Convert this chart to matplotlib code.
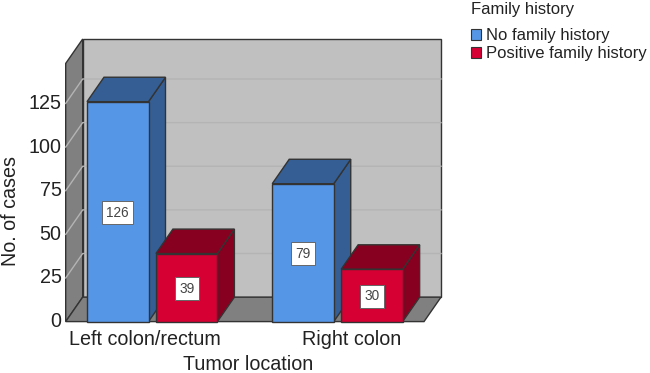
import matplotlib
matplotlib.use("Agg")
import matplotlib.pyplot as plt
from matplotlib.patches import Polygon, Patch
from matplotlib.transforms import ScaledTranslation

plt.rcParams['font.family'] = ['Liberation Sans', 'DejaVu Sans']

categories = ['Left colon/rectum', 'Right colon']
no_history = [126, 79]
positive_history = [39, 30]
series_names = ['No family history', 'Positive family history']
y_ticks = [0, 25, 50, 75, 100, 125]

W, H = 650, 373
fig = plt.figure(figsize=(W / 100, H / 100), dpi=100)
L, R, T, B = 65.7, 441.0, 39.0, 321.6
ax = fig.add_axes([L / W, 1 - B / H, (R - L) / W, (B - T) / H])
ax.set_xlim(-0.467, 1.559)
ax.set_ylim(0, 161.9)
for s in ax.spines.values():
    s.set_visible(False)

DX, DY = 0.0917, 14.0   # oblique depth in data units
BW, OFF = 0.332, 0.186  # bar width, offset from group centre
XL, XR = -0.467, 1.559
YT = 161.9
EDGE = '#333333'
TXT = '#222222'


def poly(pts, fc, ec=EDGE, lw=1.0, z=1):
    ax.add_patch(Polygon(pts, closed=True, facecolor=fc, edgecolor=ec,
                         linewidth=lw, zorder=z, clip_on=False, joinstyle='miter'))


# walls and floor
poly([(XL + DX, DY), (XR, DY), (XR, YT), (XL + DX, YT)], '#c0c0c0', z=1)
poly([(XL, 0), (XL + DX, DY), (XL + DX, YT), (XL, YT - DY)], '#808080', z=1)
poly([(XL, 0), (XR - DX, 0), (XR, DY), (XL + DX, DY)], '#808080', z=1)

# gridlines on back and side wall
for t in y_ticks[1:]:
    ax.plot([XL, XL + DX, XR], [t, t + DY, t + DY], color='#b4b4b4', lw=1.0,
            zorder=2, clip_on=False, solid_joinstyle='miter')


def bar3d(xc, v, front, dark, z):
    x0, x1 = xc - BW / 2, xc + BW / 2
    poly([(x1, 0), (x1 + DX, DY), (x1 + DX, v + DY), (x1, v)], dark, z=z)
    poly([(x0, v), (x1, v), (x1 + DX, v + DY), (x0 + DX, v + DY)], dark, z=z)
    poly([(x0, 0), (x1, 0), (x1, v), (x0, v)], front, z=z + 0.1)
    ax.annotate(str(v), ((x0 + x1) / 2, v / 2), xytext=(0, -0.7), textcoords='offset points',
                ha='center', va='center', fontsize=9.8, color='#444444', zorder=z + 0.2,
                bbox=dict(boxstyle='square,pad=0.32', fc='white', ec='#666666', lw=0.7))


for i in range(len(categories)):
    bar3d(i - OFF, no_history[i], '#5596e6', '#355f94', 3 + i * 2)
    bar3d(i + OFF, positive_history[i], '#d60032', '#87001f', 4 + i * 2)

ax.set_yticks(y_ticks)
ax.set_yticklabels([str(t) for t in y_ticks], fontsize=14.2, color=TXT)
ax.set_xticks([-0.042, 1.076])
ax.set_xticklabels(categories, fontsize=14.2, color=TXT)
ax.tick_params(axis='both', length=0)
ax.tick_params(axis='y', pad=3)
ax.tick_params(axis='x', pad=5.7)
for lab in ax.get_yticklabels():
    lab.set_transform(lab.get_transform() + ScaledTranslation(0, 2 / 100, fig.dpi_scale_trans))

fig.text(11 / W, 1 - 211 / H, 'No. of cases', rotation=90, ha='center', va='center',
         fontsize=14.2, color=TXT)
fig.text(248.5 / W, 1 - 364.5 / H, 'Tumor location', ha='center', va='center',
         fontsize=14.2, color=TXT)

handles = [Patch(facecolor='#5596e6', edgecolor='#333333', linewidth=0.8),
           Patch(facecolor='#d60032', edgecolor='#333333', linewidth=0.8)]
leg = fig.legend(handles, series_names, title='Family history', loc='upper left',
                 bbox_to_anchor=(458 / W, 1 + 11 / H), frameon=False, fontsize=12,
                 title_fontsize=12, alignment='left', handlelength=0.6, handleheight=0.6,
                 handletextpad=0.3, labelspacing=0.17, borderpad=0.3)
leg._legend_box.sep = 8
for t in leg.get_texts():
    t.set_color(TXT)
leg.get_title().set_color(TXT)

fig.savefig('out.png', dpi=100)
